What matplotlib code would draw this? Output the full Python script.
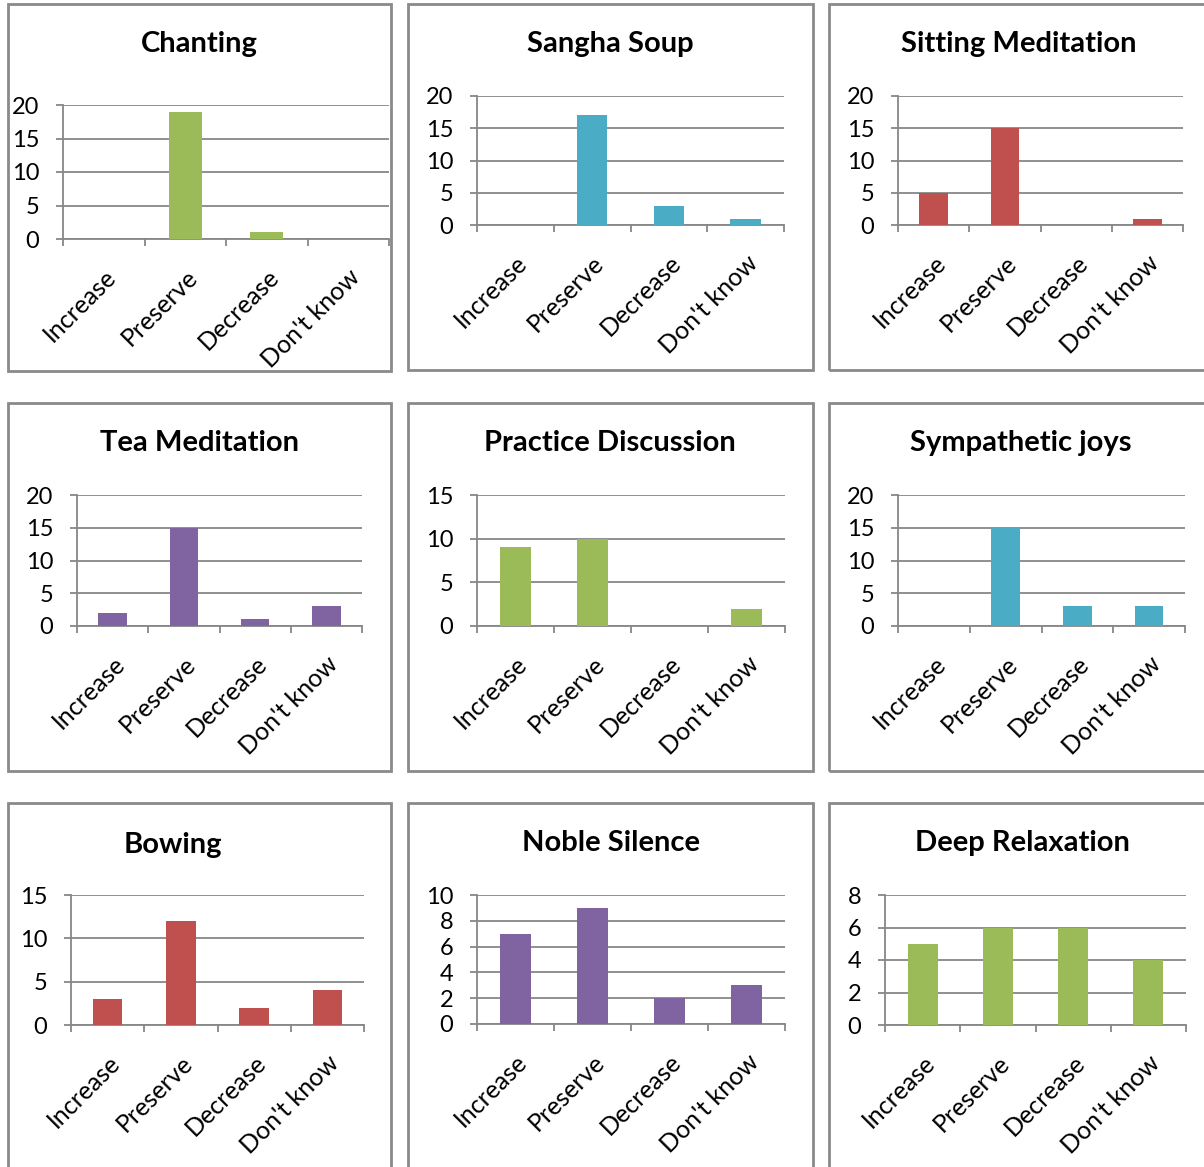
import matplotlib
matplotlib.use("Agg")
import matplotlib.pyplot as plt
from matplotlib.patches import Rectangle

plt.rcParams['font.family'] = ['Lato', 'DejaVu Sans']

categories = ["Increase", "Preserve", "Decrease", "Don't know"]

titles = ["Chanting", "Sangha Soup", "Sitting Meditation",
          "Tea Meditation", "Practice Discussion", "Sympathetic joys",
          "Bowing", "Noble Silence", "Deep Relaxation"]

chanting = [0, 19, 1, 0]
sangha_soup = [0, 17, 3, 1]
sitting_meditation = [5, 15, 0, 1]
tea_meditation = [2, 15, 1, 3]
practice_discussion = [9, 10, 0, 2]
sympathetic_joys = [0, 15, 3, 3]
bowing = [3, 12, 2, 4]
noble_silence = [7, 9, 2, 3]
deep_relaxation = [5, 6, 6, 4]

series = [chanting, sangha_soup, sitting_meditation,
          tea_meditation, practice_discussion, sympathetic_joys,
          bowing, noble_silence, deep_relaxation]

# axis max and major step for each panel
y_max = [20, 20, 20, 20, 15, 20, 15, 10, 8]
y_step = [5, 5, 5, 5, 5, 5, 5, 2, 2]

GREEN, TEAL, RED, PURPLE = "#9BBB59", "#4BACC6", "#C0504D", "#8064A2"
colors = [GREEN, TEAL, RED, PURPLE, GREEN, TEAL, RED, PURPLE, GREEN]

W, H = 1204, 1167
fig = plt.figure(figsize=(W / 100, H / 100), dpi=100)

# layout in pixels: frame box (x0, y0, x1, y1), plot area (x0, y_top, x1, y_zero), title centre (x, y)
frames = [(8, 4, 391, 371), (408, 4, 813, 370), (829, 4, 1210, 370),
          (8, 403, 391, 771), (408, 403, 813, 771), (829, 403, 1210, 771),
          (8, 803, 391, 1175), (408, 803, 813, 1175), (829, 803, 1210, 1175)]
plots = [(63, 105, 389, 239), (477, 96, 784, 225), (898, 96, 1183, 225),
         (77, 495, 362, 626), (477, 495, 785, 626), (898, 495, 1185, 626),
         (71, 895, 364, 1025), (477, 895, 785, 1024), (885, 895, 1186, 1025)]
title_pos = [(199, 44), (610, 44), (1019, 44),
             (199, 443), (610, 443), (1021, 443),
             (173, 845), (611, 843), (1022, 843)]

GRID = "#878787"


def fx(x):
    return x / W


def fy(y):
    return 1 - y / H


for i in range(9):
    bx0, by0, bx1, by1 = frames[i]
    fig.patches.append(Rectangle((fx(bx0), fy(by1)), fx(bx1 - bx0), (by1 - by0) / H,
                                 transform=fig.transFigure, fill=False,
                                 edgecolor="#8a8a8a", linewidth=2))

    px0, pt, px1, pz = plots[i]
    ax = fig.add_axes([fx(px0), fy(pz), fx(px1 - px0), (pz - pt) / H])
    x = list(range(len(categories)))
    ax.bar(x, series[i], width=0.4, color=colors[i], zorder=3)
    ax.set_xlim(-0.5, 3.5)
    ax.set_ylim(0, y_max[i])
    ax.set_yticks(range(0, y_max[i] + 1, y_step[i]))
    ax.yaxis.grid(True, color=GRID, linewidth=1.3, zorder=0)
    ax.set_axisbelow(True)

    # category labels between the boundary ticks
    ax.set_xticks([v - 0.5 for v in range(5)])
    ax.set_xticklabels([])
    ax.set_xticks(x, minor=True)
    ax.set_xticklabels(categories, minor=True, rotation=45, ha="right",
                       rotation_mode="anchor", fontsize=18)
    ax.tick_params(axis="x", which="minor", length=0, pad=18.5)
    ax.tick_params(axis="x", which="major", length=5, width=1.3, color=GRID)
    ax.tick_params(axis="y", length=5, width=1.3, color=GRID, labelsize=17, pad=12)

    for side in ("top", "right"):
        ax.spines[side].set_visible(False)
    for side in ("left", "bottom"):
        ax.spines[side].set_color(GRID)
        ax.spines[side].set_linewidth(1.3)

    tx, ty = title_pos[i]
    fig.text(fx(tx), fy(ty), titles[i], ha="center", va="center",
             fontsize=21, fontweight="bold")

fig.savefig("out.png", dpi=100, facecolor="white")
